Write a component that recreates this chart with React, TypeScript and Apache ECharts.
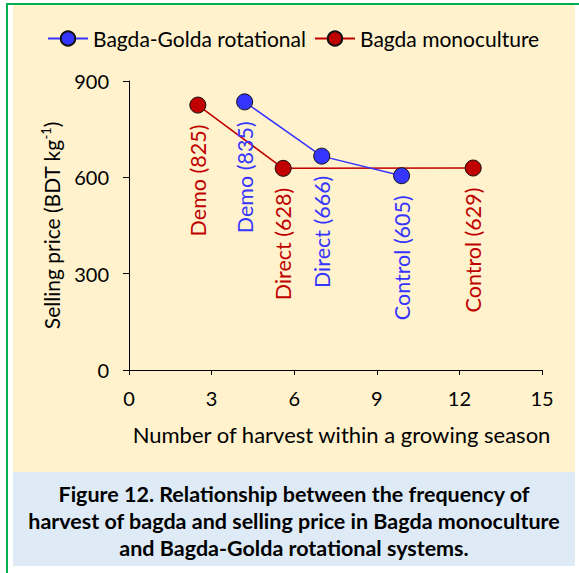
import React, { useEffect, useRef } from "react";
import * as echarts from "echarts";

const seriesNames = ["Bagda-Golda rotational", "Bagda monoculture"];
const pointNames = ["Demo", "Direct", "Control"];
const rotationalHarvests = [4.2, 7.0, 9.9];
const rotationalPrices = [835, 666, 605];
const monocultureHarvests = [2.5, 5.6, 12.5];
const monoculturePrices = [825, 628, 629];
const xTicks = [0, 3, 6, 9, 12, 15];
const yTicks = [0, 300, 600, 900];
const captionLines = [
  "Figure 12. Relationship between the frequency of",
  "harvest of bagda and selling price in Bagda monoculture",
  "and Bagda-Golda rotational systems.",
];

const FONT = "Lato";
const BLUE = "#3535FF";
const RED = "#C00000";

export default function App() {
  const ref = useRef<HTMLDivElement>(null);
  useEffect(() => {
    if (!ref.current) return;
    const chart = echarts.init(ref.current, null, { renderer: "svg" });
    const mk = (xs: number[], ys: number[]) => xs.map((x, i) => ({ value: [x, ys[i]], name: pointNames[i] }));
    const labelCfg = (color: string) => ({
      show: true,
      position: "bottom",
      distance: 11,
      rotate: 90,
      align: "right",
      verticalAlign: "middle",
      color,
      fontFamily: FONT,
      fontSize: 21.5,
      formatter: (p: any) => `${p.name} (${p.value[1]})`,
    });
    chart.setOption({
      animation: false,
      textStyle: { fontFamily: FONT },
      graphic: [
        { type: "rect", shape: { x: 13, y: 5, width: 562, height: 467 }, style: { fill: "#FFF2CC" }, z: -10 },
        { type: "rect", shape: { x: 13, y: 472, width: 562, height: 94 }, style: { fill: "#DEEBF7" }, z: -10 },
        { type: "rect", shape: { x: 6, y: 3, width: 573, height: 2 }, style: { fill: "#00B050" }, z: -9 },
        { type: "rect", shape: { x: 6, y: 3, width: 2, height: 570 }, style: { fill: "#00B050" }, z: -9 },
        ...captionLines.map((t, i) => ({
          type: "text",
          x: 294,
          y: 494 + i * 27,
          style: {
            text: t,
            fill: "#000",
            font: `bold 21.5px ${FONT}`,
            textAlign: "center",
            textVerticalAlign: "middle",
          },
        })),
      ],
      legend: {
        left: 42,
        top: 23,
        padding: 5,
        itemWidth: 40,
        itemHeight: 18,
        itemGap: 8,
        textStyle: { fontFamily: FONT, fontSize: 21, color: "#000" },
        data: seriesNames,
      },
      grid: { left: 129, right: 37, top: 81, bottom: 203, containLabel: false },
      xAxis: {
        type: "value",
        min: 0,
        max: 15,
        interval: 3,
        name: "Number of harvest within a growing season",
        nameLocation: "middle",
        nameGap: 53,
        nameTextStyle: { fontFamily: FONT, fontSize: 22, color: "#000", padding: [0, 0, 0, 12] },
        axisLine: { show: true, lineStyle: { color: "#000", width: 1 } },
        axisTick: { show: true, length: 5, lineStyle: { color: "#000" } },
        axisLabel: {
          fontFamily: FONT,
          fontSize: 20,
          color: "#000",
          margin: 18,
          formatter: (v: number) => (xTicks.includes(v) ? String(v) : ""),
        },
        splitLine: { show: false },
      },
      yAxis: {
        type: "value",
        min: 0,
        max: 900,
        interval: 300,
        name: "{a|Selling price (BDT kg}{s|-1}{a|)}",
        nameLocation: "middle",
        nameRotate: 90,
        nameGap: 65,
        nameTextStyle: {
          rich: {
            a: { fontFamily: FONT, fontSize: 21, color: "#000", lineHeight: 25 },
            s: { fontFamily: FONT, fontSize: 13, color: "#000", verticalAlign: "top", lineHeight: 25 },
          },
        },
        axisLine: { show: true, lineStyle: { color: "#000", width: 1 } },
        axisTick: { show: true, length: 6, lineStyle: { color: "#000" } },
        axisLabel: {
          fontFamily: FONT,
          fontSize: 20,
          color: "#000",
          margin: 20,
          formatter: (v: number) => (yTicks.includes(v) ? String(v) : ""),
        },
        splitLine: { show: false },
      },
      series: [
        {
          name: seriesNames[0],
          type: "line",
          data: mk(rotationalHarvests, rotationalPrices),
          symbol: "circle",
          symbolSize: 16,
          lineStyle: { color: BLUE, width: 1.5 },
          itemStyle: { color: BLUE, borderColor: "#111", borderWidth: 1 },
          label: labelCfg(BLUE),
          z: 3,
        },
        {
          name: seriesNames[1],
          type: "line",
          data: mk(monocultureHarvests, monoculturePrices),
          symbol: "circle",
          symbolSize: 16,
          lineStyle: { color: RED, width: 1.5 },
          itemStyle: { color: RED, borderColor: "#111", borderWidth: 1 },
          label: labelCfg(RED),
          z: 2,
        },
      ],
    });
    return () => chart.dispose();
  }, []);
  return (
    <div
      ref={ref}
      style={{ position: "absolute", left: 0, top: 0, width: 579, height: 573, background: "#fff" }}
    />
  );
}
